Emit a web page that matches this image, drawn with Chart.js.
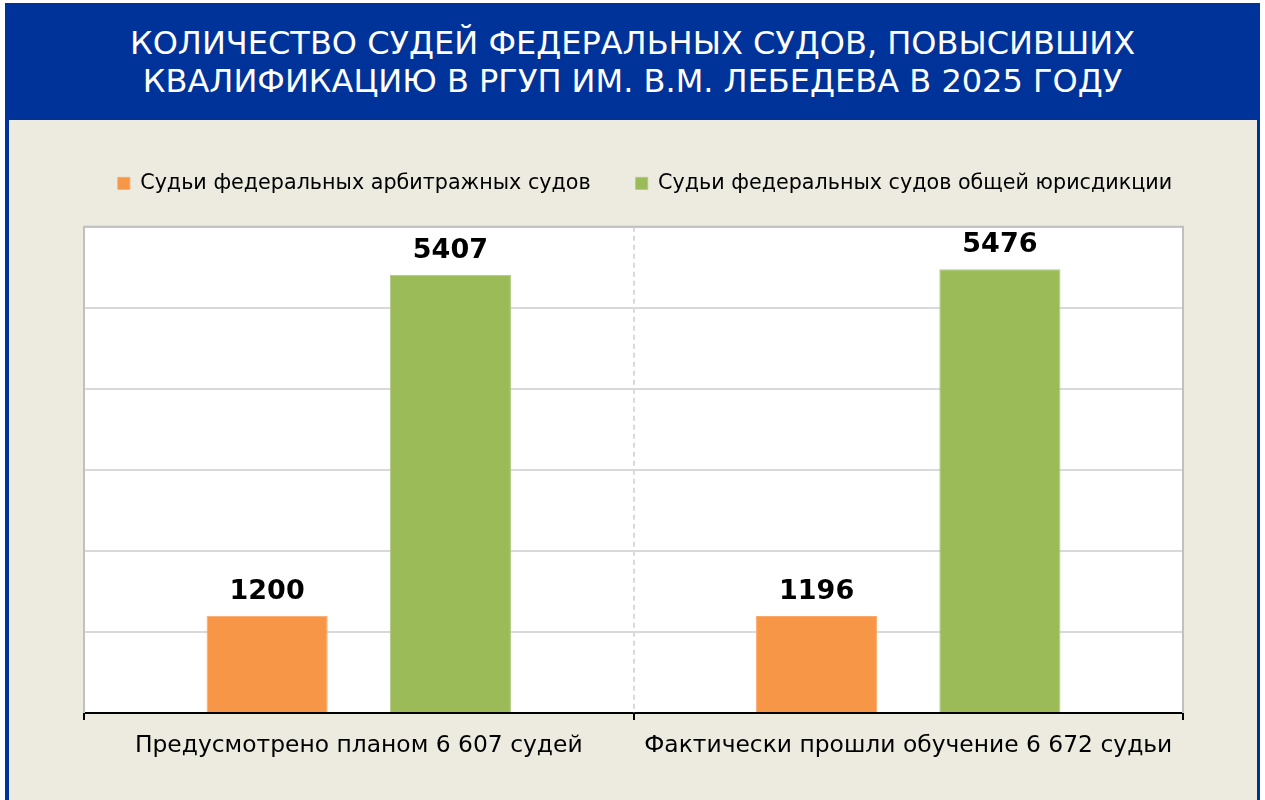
<!DOCTYPE html>
<html>
<head>
<meta charset="utf-8">
<script src="https://cdn.jsdelivr.net/npm/chart.js@4"></script>
<style>
  body { margin: 0; background: #fff; width: 1265px; height: 800px; overflow: hidden; }
  #frame { position: absolute; left: 5px; top: 3px; width: 1255px; height: 800px; background: #003399; }
  #title { position: absolute; left: 5px; top: 24px; width: 1255px; text-align: center;
           color: #fff; font-family: "DejaVu Sans", sans-serif; font-size: 32px; line-height: 38px; }
  #panel { position: absolute; left: 9px; top: 120px; width: 1248px; height: 680px; background: #edebe0; }
  #panel canvas { position: absolute; left: 0; top: 0; }
</style>
</head>
<body>
<div id="frame"></div>
<div id="title">КОЛИЧЕСТВО СУДЕЙ ФЕДЕРАЛЬНЫХ СУДОВ, ПОВЫСИВШИХ<br>КВАЛИФИКАЦИЮ В РГУП ИМ. В.М. ЛЕБЕДЕВА В 2025 ГОДУ</div>
<div id="panel"><canvas id="myChart" width="1248" height="680"></canvas></div>
<script>
const categories = ["Предусмотрено планом 6 607 судей", "Фактически прошли обучение 6 672 судьи"];
const seriesNames = ["Судьи федеральных арбитражных судов", "Судьи федеральных судов общей юрисдикции"];
const arbitrazh = [1200, 1196];
const obshchaya = [5407, 5476];

const FONT = "'DejaVu Sans', sans-serif";

// extra room under the legend
const legendSpace = {
  id: "legendSpace",
  beforeInit(chart) {
    const lg = chart.legend;
    const fit = lg.fit;
    lg.fit = function () { fit.call(this); this.height += 23; };
  }
};

// white plot area, frame, dashed separator and value labels
const plotArea = {
  id: "plotArea",
  beforeDraw(chart) {
    const { ctx, chartArea: a } = chart;
    ctx.save();
    ctx.fillStyle = "#ffffff";
    ctx.fillRect(a.left, a.top, a.right - a.left, a.bottom - a.top);
    ctx.restore();
  },
  beforeDatasetsDraw(chart) {
    const { ctx, chartArea: a, scales } = chart;
    ctx.save();
    ctx.strokeStyle = "#d9d9d9";
    ctx.lineWidth = 2;
    ctx.setLineDash([5, 4]);
    for (let i = 1; i < categories.length; i++) {
      const x = Math.round((scales.x.getPixelForValue(i - 1) + scales.x.getPixelForValue(i)) / 2);
      ctx.beginPath();
      ctx.moveTo(x, a.top);
      ctx.lineTo(x, a.bottom);
      ctx.stroke();
    }
    ctx.setLineDash([]);
    ctx.strokeStyle = "#c0c0c0";
    ctx.beginPath();
    ctx.moveTo(a.left, a.bottom);
    ctx.lineTo(a.left, a.top);
    ctx.lineTo(a.right, a.top);
    ctx.lineTo(a.right, a.bottom);
    ctx.stroke();
    ctx.restore();
  },
  afterDatasetsDraw(chart) {
    const { ctx } = chart;
    ctx.save();
    ctx.font = "bold 27px " + FONT;
    ctx.fillStyle = "#000";
    ctx.textAlign = "center";
    ctx.textBaseline = "alphabetic";
    chart.data.datasets.forEach((ds, di) => {
      chart.getDatasetMeta(di).data.forEach((bar, i) => {
        ctx.fillText(String(ds.data[i]), bar.x, bar.y - 17);
      });
    });
    ctx.restore();
  }
};

new Chart(document.getElementById("myChart"), {
  type: "bar",
  data: {
    labels: categories,
    datasets: [
      { label: seriesNames[0], data: arbitrazh, backgroundColor: "#f79646", borderColor: "#f9a868", borderWidth: 1 },
      { label: seriesNames[1], data: obshchaya, backgroundColor: "#9bbb59", borderColor: "#afc97c", borderWidth: 1 }
    ]
  },
  options: {
    responsive: false,
    animation: false,
    layout: { padding: { left: 24, right: 0, top: 8, bottom: 28 } },
    datasets: { bar: { categoryPercentage: 0.667, barPercentage: 0.661 } },
    plugins: {
      legend: {
        position: "top",
        labels: { boxWidth: 12, boxHeight: 12, padding: 45, color: "#000", font: { family: FONT, size: 20.7 } }
      },
      tooltip: { enabled: false }
    },
    scales: {
      x: {
        grid: { display: true, drawOnChartArea: false, drawTicks: true, tickLength: 7, tickColor: "#000", lineWidth: 2 },
        border: { display: true, color: "#000", width: 2 },
        ticks: { color: "#000", padding: 12, font: { family: FONT, size: 23.4 } }
      },
      y: {
        min: 0,
        max: 6000,
        ticks: { display: false, stepSize: 1000 },
        grid: { color: "#d9d9d9", lineWidth: 2, drawTicks: false },
        border: { display: false },
        afterFit(scale) { scale.width = 51; }
      },
      yRight: {
        position: "right",
        display: true,
        ticks: { display: false },
        grid: { display: false, drawTicks: false },
        border: { display: false },
        afterFit(scale) { scale.width = 74; }
      }
    }
  },
  plugins: [legendSpace, plotArea]
});
</script>
</body>
</html>
